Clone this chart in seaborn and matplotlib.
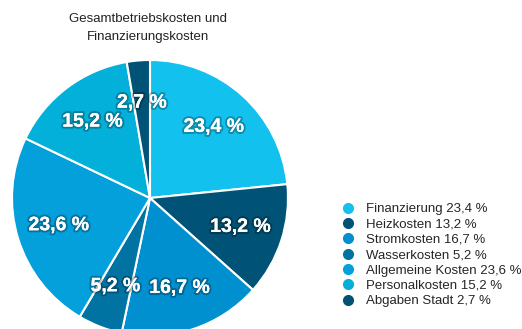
import matplotlib
matplotlib.use("Agg")
import matplotlib.pyplot as plt
import matplotlib.patheffects as pe
from matplotlib.lines import Line2D
import seaborn as sns

categories = ["Finanzierung", "Heizkosten", "Stromkosten", "Wasserkosten",
              "Allgemeine Kosten", "Personalkosten", "Abgaben Stadt"]
shares = [23.4, 13.2, 16.7, 5.2, 23.6, 15.2, 2.7]
colors = ["#13c1ef", "#005376", "#0090d0", "#0073a3", "#04a0dc", "#03b0d9", "#005376"]
title = "Gesamtbetriebskosten und\nFinanzierungskosten"

sns.set_theme(style="white")
plt.rcParams["font.family"] = ["Liberation Sans", "DejaVu Sans"]

fig = plt.figure(figsize=(5.22, 3.29), dpi=100)
ax = fig.add_axes([12 / 522, -7 / 329, 276 / 522, 276 / 329])

def fmt(v):
    return f"{v:.1f} %".replace(".", ",")

wedges, texts = ax.pie(
    shares, colors=colors, startangle=90, counterclock=False,
    labels=[fmt(v) for v in shares], labeldistance=0.69,
    wedgeprops=dict(edgecolor="white", linewidth=1.5),
    textprops=dict(color="white", fontsize=14, fontweight="bold",
                   ha="center", va="center"),
)
for t in texts:
    t.set_path_effects([pe.withStroke(linewidth=3, foreground="#00000045"), pe.Normal()])
ax.set_xlim(-1, 1)
ax.set_ylim(-1, 1)
ax.set_aspect("equal")
ax.axis("off")

fig.text(148 / 522, 1 - 28 / 329, title, ha="center", va="center",
         fontsize=9.5, color="#222222", linespacing=1.6)

handles = [Line2D([0], [0], marker="o", linestyle="none", markersize=7,
                  markerfacecolor=c, markeredgecolor=c) for c in colors]
labels = [f"{c} {fmt(v)}" for c, v in zip(categories, shares)]
fig.legend(handles, labels, loc="upper left",
           bbox_to_anchor=(340 / 522, 1 - 203 / 329), frameon=False,
           fontsize=9.5, handletextpad=0.77, labelspacing=0.235,
           handlelength=1.2, borderpad=0, borderaxespad=0)

fig.savefig("out.png", dpi=100)
